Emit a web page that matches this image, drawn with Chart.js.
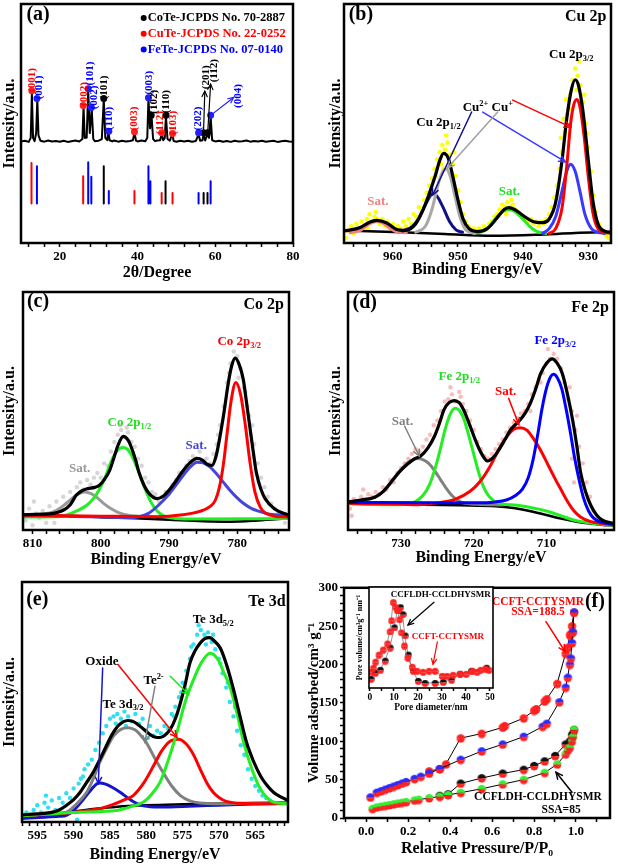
<!DOCTYPE html>
<html><head><meta charset="utf-8">
<script src="https://cdn.jsdelivr.net/npm/chart.js@4.4.1/dist/chart.umd.min.js"></script>
<style>
html,body{margin:0;padding:0;background:#fff;}
body{width:618px;height:864px;position:relative;overflow:hidden;}
canvas{position:absolute;}
</style></head><body>
<script>
const SERIF = '"Liberation Serif","Times New Roman",serif';

/* ================= (a) XRD ================= */
const xrdTrace = [[10,42.5],[11,42.8],[12,42.3],[12.5,44],[12.8,62.5],[13.1,44],[13.5,42.6],[13.9,46],[14.2,60],[14.5,45],[15,42.8],[16,42.4],[17,42.9],[18,42.5],[19,42.7],[20,42.4],[21,42.8],[22,42.3],[23,42.6],[24,42.9],[25,42.5],[25.8,43.5],[26.1,57],[26.4,44],[26.9,44],[27.3,64],[27.7,46],[28.2,56],[28.6,43.5],[29,42.6],[30,42.8],[30.8,43.5],[31.3,60],[31.7,44],[32.2,43],[32.5,46.5],[32.8,43],[33.5,42.5],[34,42.9],[35,42.4],[36,42.8],[37,42.5],[38,42.7],[38.8,43],[39.2,46.2],[39.6,42.8],[40,42.5],[41,42.9],[42,42.6],[42.5,44],[42.8,60.5],[43.2,48],[43.6,53],[44,43.5],[44.5,42.6],[45,42.9],[45.8,43],[46.2,45.5],[46.6,43],[47,44],[47.3,53],[47.7,43.5],[48.3,42.8],[48.9,45.5],[49.3,42.7],[50,42.4],[51,42.8],[52,42.5],[53,42.8],[54,42.4],[55,42.7],[55.7,45.5],[56.1,42.8],[56.7,43],[57,45.5],[57.4,42.9],[58,45.5],[58.4,44],[58.8,53],[59.2,43],[60,42.5],[61,42.8],[62,42.4],[63,42.7],[64,42.3],[65,42.8],[66,42.5],[67,42.6],[68,42.9],[69,42.4],[70,42.7],[71,42.5],[72,42.8],[73,42.4],[74,42.6],[75,42.8],[76,42.3],[77,42.6],[78,42.8],[79,42.5],[80,42.4]];
const xrdMarksCoTe = [[31.3,60.5],[43.5,53.5],[47.3,53.5],[57.0,46.1],[58.0,46.1]];
const xrdMarksCuTe = [[12.8,63.7],[26.0,57.5],[39.2,46.5],[46.2,46.1],[49.0,45.8]];
const xrdMarksFeTe = [[14.1,60.5],[27.3,64.5],[28.1,56.7],[32.6,46.8],[42.8,60.8],[55.7,46.1],[58.8,53.5]];
const stickBase = 16.5;
const sticksCoTe = [[31.3,32.1],[47.2,25.8],[57.0,20.9],[58.0,20.9]];
const sticksCuTe = [[12.7,33.5],[26.0,27.9],[39.2,21.8],[46.2,20.9],[49.0,20.9]];
const sticksFeTe = [[14.1,32.1],[27.3,33.8],[28.1,27.7],[32.6,21.8],[42.8,32.1],[43.3,25.8],[55.7,20.9],[58.8,25.8]];
const xrdHkl = [["(001)","#ff0000",12.9,68.2],["(001)","#0000ff",14.6,65.1],["(002)","#ff0000",26.2,62.3],["(101)","#0000ff",27.9,70.9],["(002)","#0000ff",28.7,60.9],["(101)","#000000",31.5,65.1],["(110)","#0000ff",32.7,52.1],["(003)","#ff0000",39.2,52.1],["(003)","#0000ff",43.0,67.0],["(102)","#000000",44.2,59.1],["(112)","#ff0000",45.7,50.3],["(110)","#000000",47.3,59.1],["(103)","#ff0000",49.1,50.3],["(202)","#0000ff",55.7,52.1],["(201)","#000000",57.6,69.3],["(112)","#000000",59.6,72.1],["(004)","#0000ff",65.8,61.5]];

/* ================= (b) Cu 2p ================= */
const cuFit = [[967.5,5],[965,6.5],[963.5,8.8],[962.5,9.5],[961,8.5],[959.5,5.8],[958,5.3],[956.5,8],[955.5,13],[954.5,20],[953.5,28],[952.8,34.5],[952.2,37.5],[951.5,35.5],[950.8,28],[950,18],[949.2,10],[948.3,6],[947,4.8],[945.5,6],[944,10.5],[943,13.8],[942.2,14.8],[941.3,14],[940,11.5],[938.5,9],[937,8.5],[936,10],[935,17],[934,35],[933.3,52],[932.6,64],[932,68.3],[931.5,66],[930.8,55],[930,35],[929.3,18],[928.5,8],[927.5,5],[926.5,4.5]];
const cuPlus32 = [[936,4],[935,6],[934,15],[933.3,32],[932.7,50],[932.2,58],[931.7,60],[931.2,56],[930.6,44],[930,28],[929.3,13],[928.5,6],[927.5,4.5],[926.5,4]];
const cu2Plus32 = [[937,4],[936,6],[935,11],[934,22],[933.3,30],[932.7,33],[932,30],[931.3,22],[930.5,12],[929.5,6],[928.5,4.5],[927.5,4]];
const cuPlus12 = [[956.5,4.5],[955,7],[954,14],[953,25],[952.3,30],[951.8,31],[951.2,28],[950.5,20],[949.7,11],[948.8,5.5],[947.5,4]];
const cu2Plus12 = [[958.5,5],[957,7],[956,10.5],[955,16],[954.2,20],[953.8,20.7],[953.2,19.5],[952.3,15],[951.3,9],[950.3,5.5],[949.3,4.5]];
const cuSatA = [[947.5,4],[946,5],[945,7.5],[944,11],[943,13.3],[942.1,14],[941.2,13],[940.2,10.5],[939,7],[938,5],[936.5,4]];
const cuSatB = [[966.5,4.5],[965,5.5],[964,7.5],[963,9],[962.5,9.2],[961.5,8.5],[960.5,6.5],[959.5,5],[958,4.5]];
const cuBase = [[967.5,5.3],[960,4.6],[952,3.8],[945,3.0],[938,3.4],[932,4.2],[926.5,4.6]];
const cuRaw = [[967.2,2],[966.8,5],[966.4,7],[966,4],[965.6,8],[965.2,6],[964.8,9],[964.4,7],[964,10],[963.6,12],[963.2,9],[962.8,11],[962.4,10],[962,8],[961.6,10],[961.2,7],[960.8,9],[960.4,6],[960,8],[959.6,5],[959.2,7],[958.8,6],[958.4,9],[958,7],[957.6,10],[957.2,8],[956.8,12],[956.4,11],[956,15],[955.6,13],[955.2,18],[954.8,21],[954.4,24],[954,27],[953.6,31],[953.2,35],[952.8,38],[952.4,41],[952,39],[951.6,42],[951.2,37],[950.8,33],[950.4,28],[950,22],[949.6,17],[949.2,12],[948.8,9],[948.4,7],[948,5],[947.6,6],[947.2,4],[946.8,6],[946.4,5],[946,7],[945.6,6],[945.2,8],[944.8,9],[944.4,11],[944,12],[943.6,14],[943.2,16],[942.8,15],[942.4,17],[942,15],[941.6,16],[941.2,14],[940.8,13],[940.4,12],[940,11],[939.6,10],[939.2,9],[938.8,10],[938.4,8],[938,9],[937.6,7],[937.2,9],[936.8,8],[936.4,10],[936,12],[935.6,15],[935.2,19],[934.8,24],[934.4,31],[934,38],[933.6,46],[933.2,54],[932.8,62],[932.4,68],[932,73],[931.6,70],[931.2,66],[930.8,59],[930.4,50],[930,40],[929.6,30],[929.2,20],[928.8,13],[928.4,8],[928,6],[927.6,4],[927.2,3],[926.8,2],[933.4,60],[932.6,56],[931.8,64],[931.4,76],[930.6,62],[933.8,52],[934.2,44],[930.2,46],[952.6,33],[951.8,45],[952.2,31],[953.4,28],[950.6,38],[942.6,12],[941.8,18],[962.6,13],[963.8,6]];

/* ================= (c) Co 2p ================= */
const coFit = [[811.4,6.4],[809.5,6.6],[807.5,6.8],[805.5,8.3],[804.5,10.5],[803.6,14.6],[802.7,16.6],[801.9,17.4],[800.9,17.9],[800.2,18.8],[799.4,21.5],[798.7,25],[798,31],[797.5,35.4],[796.7,39.3],[796,37.8],[795.6,35.4],[794.9,29.5],[794.4,24.3],[793.6,18.5],[792.9,15.3],[791.7,13.2],[790.8,14.3],[790,16.7],[789,20.5],[788.1,24.3],[787,28],[785.9,30.1],[785.1,29.4],[784.5,27.8],[783.7,27.1],[783.1,31],[782.5,39.6],[781.9,50],[781.3,61.8],[780.8,69],[780.3,72.2],[779.7,69.5],[779.1,63.2],[778.6,53],[778.1,42.4],[777.6,32],[777.2,24.3],[776.5,17],[775.9,13.2],[774.5,8.8],[772.4,6.2]];
const co2p32 = [[811.4,6.2],[800,5.8],[792,5.6],[788,6.4],[785.5,7.8],[784,9.8],[783.2,12.5],[782.6,18],[782,28],[781.5,40],[780.9,54],[780.2,62],[779.5,57],[778.8,44],[778.1,28],[777.4,16],[776.6,9.5],[775.8,7],[774.5,5.8],[772.4,5.5]];
const coSatA = [[811.4,6],[800,5.5],[796,5.2],[794.4,5.6],[793,7],[791.5,10.5],[790,15],[788.8,19.5],[787.5,24.5],[786.5,27.5],[785.9,28.5],[785,28.2],[784,26.5],[783,23.5],[782,20],[781,16.5],[780,13.5],[779,11],[778,9.2],[777,8],[775.8,7],[774.5,6.4],[772.4,6]];
const co2p12 = [[811.4,5.5],[806.5,5.6],[805,6.3],[803.5,8],[802,10.5],[801,13.5],[800.2,17],[799.3,22.5],[798.5,28.5],[797.8,32.5],[797.2,34.3],[796.7,34.7],[796.1,34],[795.5,31.5],[794.8,27],[794.2,22.5],[793.4,16.5],[792.6,11.5],[791.8,8.2],[790.8,6],[789.5,5],[787,4.6],[772.4,4.8]];
const coSatB = [[811.4,6.3],[808.5,6.8],[807,7.6],[805.8,9.5],[804.6,12.3],[803.5,14.8],[802.4,16],[801.4,15.3],[800.5,13.5],[799.5,11],[798.4,8.8],[797.3,7.2],[796,6.2],[794.5,5.8],[792,5.6]];
const coBase = [[811.4,6.2],[805,6],[800,5.4],[795,4.9],[790,4.3],[785,3.7],[781,3.5],[777,4],[772.4,4.9]];
const coRaw = [[811,4],[810.5,9],[810,2],[809.5,7],[809,5],[808.5,8],[808,3],[807.5,10],[807,6],[806.5,12],[806,9],[805.5,14],[805,11],[804.5,16],[804,13],[803.5,18],[803,20],[802.5,17],[802,21],[801.5,19],[801,22],[800.5,24],[800,22],[799.5,28],[799,27],[798.5,33],[798,37],[797.5,40],[797,42],[796.5,39],[796,41],[795.5,37],[795,35],[794.5,30],[794,27],[793.5,22],[793,20],[792.5,16],[792,15],[791.5,12],[791,14],[790.5,16],[790,15],[789.5,19],[789,21],[788.5,24],[788,23],[787.5,27],[787,29],[786.5,31],[786,30],[785.5,33],[785,29],[784.5,30],[784,28],[783.5,32],[783,36],[782.5,44],[782,52],[781.5,62],[781,70],[780.5,75],[780,73],[779.5,68],[779,60],[778.5,52],[778,40],[777.5,36],[777,28],[776.5,22],[776,18],[775.5,14],[775,11],[774.5,9],[774,7],[773.5,5],[773,3],[778.8,58],[778.2,48],[777.8,44],[779.8,64],[781.2,66],[782.8,40],[797.2,44],[796.2,43],[798.2,30],[806.8,3],[809.8,12]];

/* ================= (d) Fe 2p ================= */
const feFit = [[737.3,11.8],[735.5,12.6],[733.6,13.8],[732.5,16],[731.4,20],[730.2,24.5],[729.1,27.7],[728.2,29.8],[727.3,31.1],[726.3,34.5],[725.4,39.4],[724.7,45],[724.1,50.5],[723.4,53.5],[722.7,54.4],[722,53.5],[721.4,50.5],[720.6,44.5],[719.8,38],[719,32.5],[718.1,29],[717.3,30.5],[716.5,33.9],[715.7,38],[714.9,42.2],[713.6,46.3],[712.9,49.2],[712.2,53.3],[711.5,59],[710.8,65.7],[710,70],[709.2,71.9],[708.5,70],[707.8,65.7],[707.1,57],[706.4,46.3],[705.8,35],[705.3,24.2],[704.6,16],[703.9,10.4],[703.1,6.3],[702.3,4.1],[700.8,2.8]];
const fe2p32 = [[737.3,11.6],[725,11.4],[720,11.4],[717,11.8],[715.5,12.6],[714.3,14.4],[713.3,17.2],[712.5,22],[711.8,30],[711.2,40],[710.6,51],[710,59.5],[709.4,64.5],[709,65.4],[708.5,64],[707.9,59.5],[707.3,51],[706.7,41],[706.1,30],[705.5,21],[704.9,13.5],[704.2,8],[703.5,5],[702.5,3.3],[700.8,2.4]];
const feSatA = [[737.3,11.2],[730,10.8],[727.7,10.6],[725,11.4],[722.5,13],[720.5,16.3],[719.1,20.5],[717.8,26.5],[716.6,33.5],[715.5,39],[714.5,42.3],[713.6,43],[712.7,42],[711.8,38.5],[710.8,33.5],[709.8,27.5],[708.8,21.5],[708,17],[707.1,12],[706.2,8],[705.2,5.3],[704,3.6],[702.5,2.8],[700.8,2.3]];
const fe2p12 = [[737.3,11],[731,10.6],[729.1,10.8],[728,12],[727,14.5],[726.1,19],[725.3,26],[724.6,34],[724,41.5],[723.4,47.5],[722.9,50.5],[722.5,51.2],[722,50.3],[721.4,47],[720.8,41],[720.1,33],[719.4,25],[718.7,18.5],[718,14.5],[717.2,12.2],[716.3,11.1],[714,10.4],[710,8],[706,4],[702,2.3],[700.8,2.2]];
const feSatB = [[737.3,11.8],[735,12.4],[733.5,14],[732.2,17],[731.1,21.2],[730.1,25],[729.1,28.3],[728.3,29.7],[727.7,30],[727,29.6],[726.2,28],[725.4,25],[724.6,21.3],[723.8,17.6],[723,14.5],[722.1,12.3],[721.2,11.2],[719.5,10.8],[716,10.5]];
const feBase = [[737.3,11.2],[730,10.8],[722,10.4],[717,10],[714.5,9.2],[712,7.8],[710,6.3],[708,4.8],[706,3.6],[704,2.7],[702,2.1],[700.8,1.9]];
const feRaw = [[737,9],[736.5,13],[736,12],[735.5,14],[735,12],[734.5,15],[734,14],[733.5,16],[733,15],[732.5,18],[732,17],[731.5,21],[731,20],[730.5,24],[730,26],[729.5,28],[729,30],[728.5,32],[728,34],[727.5,33],[727,35],[726.5,38],[726,40],[725.5,44],[725,46],[724.5,50],[724,54],[723.5,55],[723,57],[722.5,54],[722,58],[721.5,53],[721,50],[720.5,46],[720,42],[719.5,37],[719,34],[718.5,31],[718,30],[717.5,32],[717,34],[716.5,36],[716,38],[715.5,41],[715,43],[714.5,45],[714,47],[713.5,49],[713,50],[712.5,53],[712,57],[711.5,60],[711,63],[710.5,66],[710,70],[709.5,72],[709,74],[708.5,72],[708,68],[707.5,62],[707,55],[706.5,50],[706,42],[705.5,35],[705,28],[704.5,20],[704,14],[703.5,8],[703,5],[702.5,3],[702,2],[706.8,60],[706.5,30],[706.2,20],[705.8,48],[709.8,76],[710.8,62],[712.2,50],[723.2,60],[721.8,56],[736.8,6],[735.2,17]];

/* ================= (e) Te 3d ================= */
const teFit = [[597.1,3],[595,3.4],[593.2,3.9],[592,5],[591,6.9],[590,9.3],[589.1,12.4],[588.2,16.5],[587.3,20.7],[586.4,26],[585.5,31.7],[584.7,36.5],[583.9,40],[583.2,41.7],[582.5,42.3],[581.7,41.7],[580.9,40],[580.1,38],[579.3,36.1],[578.7,35.3],[578.1,35.2],[577.4,36.3],[576.7,38.6],[576,43],[575.3,49.7],[574.6,58],[574,66.2],[573.3,71.3],[572.6,74.5],[572,76.3],[571.3,76.8],[570.6,75.3],[569.8,72.4],[568.9,65],[568,55.2],[567.1,44],[566.2,33.1],[565.2,25],[564.3,19.3],[563.4,15.3],[562.5,12.4],[561.5,10.5],[560.5,9]];
const te3d52 = [[597.1,2.6],[590,4],[586,4.4],[584.1,4.8],[582.3,6.2],[580.4,8.3],[579.2,11.8],[578.1,16.6],[577,25.5],[575.8,37.2],[574.7,49.5],[573.5,59.3],[572.4,66.5],[571.2,70.3],[570.1,67.5],[569.3,62],[568.5,56.6],[567.5,45],[566.6,33.1],[565.4,21.5],[564.3,13.8],[563.4,10.2],[562.5,8.3],[560.5,7.6]];
const teOxide52 = [[597.1,2.6],[590,4],[588,4.8],[586.4,5.5],[584.3,7.6],[582.8,9.5],[581.8,11],[580.3,16.5],[579,23.4],[577.9,29.5],[576.8,33.5],[575.6,34.5],[574.5,32.5],[573.5,28],[572.6,22.1],[571.7,16.5],[570.8,12.4],[569.9,10],[569,8.6],[567,7.8],[564,7.6],[560.5,7.6]];
const te3d32 = [[597.1,2.6],[593,3.5],[591,4.1],[589.6,7.5],[588.2,12.4],[587.3,18],[586.4,24.8],[585.4,31],[584.5,35.9],[583.5,38.6],[582.5,39.3],[581.5,38.3],[580.6,35.5],[580,33.1],[578.9,27],[577.7,20.7],[576.5,15],[575.3,11],[574,8.8],[572.6,7.9],[570,7.6],[566,7.8],[560.5,8]];
const teOxide32 = [[597.1,1.5],[594,2],[592,2.4],[591,2.8],[589.8,5.5],[588.6,9.7],[587.5,13.8],[586.8,15.9],[586.4,16.3],[585.7,15.9],[584.7,14.5],[583.6,12.4],[582.3,9.5],[580.9,7.2],[579.5,6.4],[578.1,6.2],[575,6.5],[570,7],[565,7.5],[560.5,7.8]];
const teBase = [[597.1,2.5],[593,3.3],[590,4.3],[587,5.5],[584,6.4],[580,7],[575,7.4],[570,7.7],[565,7.9],[560.5,8.1]];
const teRaw = [[597,2],[596.5,4],[596,3],[595.5,5],[595,7],[594.5,4],[594,8],[593.5,6],[593,9],[592.5,5],[592,10],[591.5,8],[591,12],[590.5,10],[590,14],[589.5,1],[589,18],[588.5,22],[588,24],[587.5,26],[587,30],[586.5,33],[586,37],[585.5,40],[585,43],[584.5,44],[584,45],[583.5,43],[583,46],[582.5,44],[582,42],[581.5,45],[581,41],[580.5,43],[580,38],[579.5,40],[579,36],[578.5,38],[578,37],[577.5,40],[577,39],[576.5,45],[576,48],[575.5,52],[575,58],[574.5,63],[574,68],[573.5,74],[573,78],[572.5,80],[572,78],[571.5,79],[571,75],[570.5,72],[570,68],[569.5,62],[569,56],[568.5,50],[568,44],[567.5,38],[567,32],[566.5,28],[566,22],[565.5,18],[565,15],[564.5,13],[564,11],[563.5,10],[563,9],[562.5,8],[589.3,16],[588.7,19],[584.2,41],[582.8,40],[579.8,35],[573.8,73],[572.8,82],[571.8,74],[570.8,78],[569.8,66],[568.8,58],[567.8,48],[575.2,54],[576.2,44],[593.8,11],[592.2,3]];

/* ================= (f) BET ================= */
const betAdsFT = [[0.02,27],[0.05,33],[0.07,35],[0.09,37],[0.11,39],[0.13,41],[0.15,43],[0.17,45],[0.19,47],[0.23,51],[0.26,54],[0.30,58],[0.35,64],[0.45,76],[0.55,87],[0.65,96],[0.75,106],[0.84,119],[0.86,123],[0.92,151],[0.95,170],[0.96,183],[0.97,200],[0.975,208],[0.98,228],[0.985,242],[0.99,268]];
const betDesFT = [[0.99,268],[0.98,250],[0.975,240],[0.97,238],[0.96,222],[0.95,214],[0.91,175],[0.86,155],[0.85,152],[0.81,142],[0.80,140],[0.75,130],[0.66,120],[0.65,118],[0.55,110],[0.45,104],[0.38,70],[0.35,64],[0.30,61]];
const betAdsLDH = [[0.03,12],[0.05,14],[0.07,15],[0.09,16],[0.11,17],[0.13,18],[0.15,19],[0.17,20],[0.19,21],[0.23,23],[0.25,24],[0.30,26],[0.35,28],[0.39,30],[0.45,33],[0.55,38],[0.65,44],[0.75,50],[0.85,59],[0.91,70],[0.95,83],[0.96,88],[0.97,92],[0.98,100],[0.985,106],[0.99,115]];
const betDesLDH = [[0.99,115],[0.985,110],[0.98,108],[0.97,100],[0.95,96],[0.90,81],[0.85,74],[0.80,68],[0.75,63],[0.65,58],[0.55,52],[0.45,45],[0.39,31],[0.35,29]];
const poreFT = [[0.5,16],[1.3,20],[2.2,26],[3.6,33],[5.4,38],[7.2,44],[8.2,56],[8.9,67],[9.6,85],[10.6,80],[11.5,77],[12.2,68],[13.0,55],[14.2,42],[15.6,30],[17.5,21],[19.5,17],[22,16],[24.5,17],[27,17],[30,12],[32,12],[34.5,13],[37.5,14],[40,14],[42.5,17],[44.5,16],[46,18],[48,19],[49.5,18]];
const poreLDH = [[0.3,9],[2.1,15],[4.2,18],[6.2,27],[8.3,40],[10.1,60],[11.4,77],[12.6,80],[13.6,73],[14.5,52],[15.9,33],[17.9,17],[20,7],[22.8,5],[27,5],[30.4,6],[33.9,8],[37.4,14],[42.2,17],[48.5,20]];

/* ================= helpers ================= */
const pts = a => a.map(p => ({x: p[0], y: p[1]}));
function tickList(min, max, step) {
  const out = []; const s = Math.ceil(min / step - 1e-9);
  for (let k = s; k * step <= max + 1e-9; k++) out.push(+(k * step).toFixed(6));
  return out;
}
const isMult = (v, m) => Math.abs(v / m - Math.round(v / m)) < 1e-6;
const font = (s) => `bold ${s}px ${SERIF}`;

function drawRich(ctx, str, x, y, size, color, align) {
  const segs = []; const re = /([_^])\{([^}]*)\}/g; let last = 0, m;
  while ((m = re.exec(str))) {
    if (m.index > last) segs.push({t: str.slice(last, m.index), k: 0});
    segs.push({t: m[2], k: m[1] === '_' ? 1 : -1}); last = re.lastIndex;
  }
  if (last < str.length) segs.push({t: str.slice(last), k: 0});
  let w = 0;
  segs.forEach(s => { ctx.font = font(s.k ? size * 0.65 : size); s.w = ctx.measureText(s.t).width; w += s.w; });
  let cx = align === 'left' ? x : align === 'right' ? x - w : x - w / 2;
  ctx.fillStyle = color; ctx.textBaseline = 'middle'; ctx.textAlign = 'left';
  segs.forEach(s => {
    ctx.font = font(s.k ? size * 0.65 : size);
    const dy = s.k === 1 ? size * 0.3 : s.k === -1 ? -size * 0.35 : 0;
    ctx.fillText(s.t, cx, y + dy); cx += s.w;
  });
}
function arrow(ctx, x1, y1, x2, y2, color, w, head) {
  ctx.save(); ctx.strokeStyle = color; ctx.lineWidth = w || 1.5; ctx.lineCap = 'round';
  ctx.beginPath(); ctx.moveTo(x1, y1); ctx.lineTo(x2, y2); ctx.stroke();
  const a = Math.atan2(y2 - y1, x2 - x1), h = head || 7;
  ctx.beginPath();
  ctx.moveTo(x2 - h * Math.cos(a - 0.45), y2 - h * Math.sin(a - 0.45));
  ctx.lineTo(x2, y2);
  ctx.lineTo(x2 - h * Math.cos(a + 0.45), y2 - h * Math.sin(a + 0.45));
  ctx.stroke(); ctx.restore();
}
function notesPlugin(notes, frameW) {
  return {
    id: 'notes',
    beforeDraw(chart) {
      if (notes.whiteBg) { const a = chart.chartArea; chart.ctx.fillStyle = '#fff'; chart.ctx.fillRect(a.left, a.top, a.right - a.left, a.bottom - a.top); }
    },
    afterDraw(chart) {
      const ctx = chart.ctx, X = chart.scales.x, Y = chart.scales.y, a = chart.chartArea;
      ctx.save();
      ctx.strokeStyle = '#000'; ctx.lineWidth = frameW || 2.5;
      ctx.strokeRect(a.left, a.top, a.right - a.left, a.bottom - a.top);
      (notes.arrows || []).forEach(r => arrow(ctx, X.getPixelForValue(r.x1), Y.getPixelForValue(r.y1), X.getPixelForValue(r.x2), Y.getPixelForValue(r.y2), r.c || '#000', r.w, r.h));
      (notes.texts || []).forEach(t => {
        const px = X.getPixelForValue(t.x), py = Y.getPixelForValue(t.y);
        if (t.rot) {
          ctx.save(); ctx.translate(px, py); ctx.rotate(t.rot * Math.PI / 180);
          drawRich(ctx, t.t, 0, 0, t.s || 13, t.c || '#000', 'center'); ctx.restore();
        } else {
          if (t.dot) { ctx.beginPath(); ctx.fillStyle = t.c; ctx.arc(px - 4, py, 3, 0, Math.PI * 2); ctx.fill(); }
          drawRich(ctx, t.t, px, py, t.s || 13, t.c || '#000', t.align || 'center');
        }
      });
      ctx.restore();
    }
  };
}

function makePanel(cfg) {
  const c = document.createElement('canvas');
  c.style.left = cfg.cell.x + 'px'; c.style.top = cfg.cell.y + 'px';
  c.width = cfg.cell.w; c.height = cfg.cell.h;
  document.body.appendChild(c);
  const xs = cfg.x, ys = cfg.y;
  const xlh = xs.titleSize * 1.2, ylh = ys.titleSize * 1.2;
  let scaleLeft = Math.max(cfg.cell.x, cfg.yTitleX - ylh / 2);
  const yW = cfg.frame.l - scaleLeft;
  const scaleBottom = Math.min(cfg.cell.y + cfg.cell.h, cfg.xTitleY + xlh / 2);
  const xH = scaleBottom - cfg.frame.b;
  const padding = {left: scaleLeft - cfg.cell.x, top: cfg.frame.t - cfg.cell.y, right: cfg.cell.x + cfg.cell.w - cfg.frame.r, bottom: cfg.cell.y + cfg.cell.h - scaleBottom};
  const xTicks = tickList(xs.min, xs.max, xs.step);
  const scales = {
    x: {
      type: 'linear', min: xs.min, max: xs.max, reverse: !!xs.reverse, offset: false,
      afterBuildTicks: s => { s.ticks = xTicks.map(v => ({value: v})); },
      afterFit: s => { s.height = xH; },
      ticks: {autoSkip: false, maxRotation: 0, padding: xs.tickPad == null ? 2 : xs.tickPad, color: '#000', font: {family: SERIF, weight: 'bold', size: xs.tickSize},
        callback: v => isMult(v, xs.labelStep) ? v.toFixed(xs.dec || 0) : ''},
      grid: {display: true, drawOnChartArea: false, drawTicks: true, tickLength: xs.tickLen || 4, tickWidth: 1.5, tickColor: '#000', offset: false},
      border: {display: false},
      title: {display: true, text: xs.title, color: '#000', font: {family: SERIF, weight: 'bold', size: xs.titleSize}, padding: {top: 0, bottom: 0}}
    },
    y: {
      type: 'linear', min: ys.min, max: ys.max,
      afterFit: s => { s.width = yW; },
      ticks: ys.step ? {autoSkip: false, padding: 2, color: '#000', font: {family: SERIF, weight: 'bold', size: ys.tickSize}, callback: v => isMult(v, ys.labelStep) ? String(v) : ''} : {display: false},
      grid: ys.step ? {display: true, drawOnChartArea: false, drawTicks: true, tickLength: 4, tickWidth: 1.5, tickColor: '#000'} : {display: false},
      border: {display: false},
      title: {display: true, text: ys.title, color: '#000', font: {family: SERIF, weight: 'bold', size: ys.titleSize}, padding: {top: 0, bottom: 0}}
    }
  };
  if (ys.step) { const yt = tickList(ys.min, ys.max, ys.step); scales.y.afterBuildTicks = s => { s.ticks = yt.map(v => ({value: v})); }; }
  return new Chart(c, {
    type: 'line',
    data: {datasets: cfg.datasets},
    options: {
      responsive: false, animation: false, devicePixelRatio: 1,
      layout: {padding},
      plugins: {legend: {display: false}, tooltip: {enabled: false}},
      elements: {point: {radius: 0}, line: {borderCapStyle: 'round', borderJoinStyle: 'round'}},
      scales
    },
    plugins: [notesPlugin(cfg.notes || {}, cfg.frameW)]
  });
}
const curve = (data, color, w) => ({data: pts(data), borderColor: color, borderWidth: w || 3, pointRadius: 0, cubicInterpolationMode: 'monotone', fill: false});
const dots = (data, color, r) => ({data: pts(data), showLine: false, pointRadius: r || 2, pointBackgroundColor: color, pointBorderWidth: 0, pointBorderColor: color});
const sticks = (list, color) => ({data: list.flatMap(s => [{x: s[0], y: stickBase}, {x: s[0], y: s[1]}, {x: s[0], y: null}]), borderColor: color, borderWidth: 2, pointRadius: 0, spanGaps: false, tension: 0});
function halfDot(top, bottom, r) {
  const c = document.createElement('canvas'); const s = 2 * r + 2; c.width = c.height = s;
  const g = c.getContext('2d');
  g.beginPath(); g.arc(s / 2, s / 2, r, Math.PI, 0); g.closePath(); g.fillStyle = top; g.fill();
  g.beginPath(); g.arc(s / 2, s / 2, r, 0, Math.PI); g.closePath(); g.fillStyle = bottom; g.fill();
  return c;
}
const ylabXPS = 'Intensity/a.u.';
const xlabXPS = 'Binding Energy/eV';

/* ---------- panel (a) ---------- */
makePanel({
  cell: {x: 0, y: 0, w: 308, h: 290}, frame: {l: 21, t: 4, r: 293, b: 243}, xTitleY: 273, yTitleX: 8,
  x: {min: 10, max: 80, step: 4, labelStep: 20, tickSize: 13, title: '2θ/Degree', titleSize: 16},
  y: {min: 0, max: 100, title: ylabXPS, titleSize: 16},
  datasets: [
    dots(xrdMarksCuTe, '#ff2020', 3.5), dots(xrdMarksFeTe, '#2020ff', 3.5), dots(xrdMarksCoTe, '#000000', 3.5),
    {data: pts(xrdTrace), borderColor: '#000', borderWidth: 2, pointRadius: 0, tension: 0},
    Object.assign(sticks(sticksCoTe, '#000000'), {label: 'CoTe-JCPDS No. 70-2887'}),
    Object.assign(sticks(sticksCuTe, '#ff0000'), {label: 'CuTe-JCPDS No. 22-0252'}),
    Object.assign(sticks(sticksFeTe, '#0000ff'), {label: 'FeTe-JCPDS No. 07-0140'})
  ],
  notes: {
    texts: [
      {t: '(a)', x: 14.4, y: 95.4, s: 20},
      {t: 'CoTe-JCPDS No. 70-2887', x: 42.6, y: 94.1, s: 12.5, c: '#000000', align: 'left', dot: true},
      {t: 'CuTe-JCPDS No. 22-0252', x: 42.6, y: 87.6, s: 12.5, c: '#ff0000', align: 'left', dot: true},
      {t: 'FeTe-JCPDS No. 07-0140', x: 42.6, y: 81.0, s: 12.5, c: '#0000ff', align: 'left', dot: true}
    ].concat(xrdHkl.map(h => ({t: h[0], c: h[1], x: h[2], y: h[3], s: 11, rot: -90}))),
    arrows: [
      {x1: 57.0, y1: 47.5, x2: 57.3, y2: 63.5, c: '#000', w: 1.2, h: 6},
      {x1: 58.1, y1: 47.5, x2: 58.8, y2: 66.5, c: '#000', w: 1.2, h: 6},
      {x1: 58.9, y1: 53.5, x2: 64.7, y2: 60.9, c: '#2020ff', w: 1.2, h: 6}
    ]
  }
});

/* ---------- panel (b) ---------- */
makePanel({
  cell: {x: 308, y: 0, w: 310, h: 290}, frame: {l: 344, t: 4, r: 611, b: 243}, xTitleY: 270, yTitleX: 336,
  x: {min: 926.5, max: 967.5, reverse: true, step: 2, labelStep: 10, tickSize: 13, title: xlabXPS, titleSize: 16},
  y: {min: 0, max: 100, title: ylabXPS, titleSize: 16},
  datasets: [
    curve(cuFit, '#000000', 3.2), curve(cuPlus32, '#ff0000', 3), curve(cu2Plus32, '#3a3aff', 3),
    curve(cuPlus12, '#a8a8a8', 3), curve(cu2Plus12, '#10108a', 3), curve(cuSatA, '#22ee22', 3),
    curve(cuSatB, '#f08080', 4), curve(cuBase, '#000000', 2.5), dots(cuRaw, '#ffff00', 2.3)
  ],
  notes: {
    texts: [
      {t: '(b)', x: 964.9, y: 95.4, s: 20},
      {t: 'Cu 2p', x: 930.4, y: 94.6, s: 16},
      {t: 'Cu 2p_{3/2}', x: 932.6, y: 78.7, s: 13},
      {t: 'Cu 2p_{1/2}', x: 953.0, y: 50.2, s: 13},
      {t: 'Cu^{2+}', x: 947.3, y: 56.5, s: 13},
      {t: 'Cu^{+}', x: 943.2, y: 56.5, s: 13},
      {t: 'Sat.', x: 962.3, y: 17.2, s: 13, c: '#f08080'},
      {t: 'Sat.', x: 942.1, y: 21.3, s: 13, c: '#22dd22'}
    ],
    arrows: [
      {x1: 947.9, y1: 54.8, x2: 953.9, y2: 20.1, c: '#10108a'},
      {x1: 946.2, y1: 54.8, x2: 933.5, y2: 33.9, c: '#3a3aff'},
      {x1: 943.9, y1: 54.8, x2: 951.6, y2: 31.4, c: '#a0a0a0'},
      {x1: 941.6, y1: 59.8, x2: 932.7, y2: 48.5, c: '#ff0000'}
    ]
  }
});

/* ---------- panel (c) ---------- */
makePanel({
  cell: {x: 0, y: 288, w: 308, h: 292}, frame: {l: 23, t: 290, r: 289, b: 530}, xTitleY: 560, yTitleX: 10,
  x: {min: 772.4, max: 811.4, reverse: true, step: 2, labelStep: 10, tickSize: 13, title: xlabXPS, titleSize: 16},
  y: {min: 0, max: 100, title: ylabXPS, titleSize: 16},
  datasets: [
    curve(coFit, '#000000', 3.2), curve(co2p32, '#ff0000', 3), curve(coSatA, '#4545dd', 3),
    curve(co2p12, '#22ee22', 3), curve(coSatB, '#9a9a9a', 3), curve(coBase, '#000000', 2.5), dots(coRaw, '#d6d6d6', 2.2)
  ],
  notes: {
    texts: [
      {t: '(c)', x: 809.2, y: 95.8, s: 20},
      {t: 'Co 2p', x: 776.1, y: 94.4, s: 16},
      {t: 'Co 2p_{3/2}', x: 779.7, y: 79.2, s: 13, c: '#ff0000'},
      {t: 'Co 2p_{1/2}', x: 795.8, y: 45.1, s: 13, c: '#22dd22'},
      {t: 'Sat.', x: 786.0, y: 35.4, s: 13, c: '#4545dd'},
      {t: 'Sat.', x: 803.1, y: 25.7, s: 13, c: '#999999'}
    ]
  }
});

/* ---------- panel (d) ---------- */
makePanel({
  cell: {x: 308, y: 288, w: 310, h: 292}, frame: {l: 348, t: 289, r: 615, b: 530}, xTitleY: 558, yTitleX: 336,
  x: {min: 700.7, max: 737.3, reverse: true, step: 2, labelStep: 10, tickSize: 13, title: xlabXPS, titleSize: 16},
  y: {min: 0, max: 100, title: ylabXPS, titleSize: 16},
  datasets: [
    curve(feFit, '#000000', 3.2), curve(fe2p32, '#0000ff', 3), curve(feSatA, '#ff0000', 3),
    curve(fe2p12, '#22ee22', 3), curve(feSatB, '#808080', 3), curve(feBase, '#000000', 2.5), dots(feRaw, '#f7bcbc', 2.2)
  ],
  notes: {
    texts: [
      {t: '(d)', x: 735.0, y: 95.4, s: 20},
      {t: 'Fe 2p', x: 704.0, y: 93.4, s: 16},
      {t: 'Fe 2p_{3/2}', x: 708.8, y: 79.5, s: 13, c: '#0000ff'},
      {t: 'Fe 2p_{1/2}', x: 722.0, y: 64.3, s: 13, c: '#22dd22'},
      {t: 'Sat.', x: 715.6, y: 58.1, s: 13, c: '#ff0000'},
      {t: 'Sat.', x: 729.8, y: 45.6, s: 13, c: '#808080'}
    ],
    arrows: [
      {x1: 715.2, y1: 55.3, x2: 713.8, y2: 44.3, c: '#ff0000'},
      {x1: 729.5, y1: 43.6, x2: 727.5, y2: 31.1, c: '#808080'}
    ]
  }
});

/* ---------- panel (e) ---------- */
makePanel({
  cell: {x: 0, y: 578, w: 308, h: 286}, frame: {l: 22, t: 580, r: 288, b: 822}, xTitleY: 855, yTitleX: 10,
  x: {min: 560.5, max: 597.1, reverse: true, step: 1, labelStep: 5, tickSize: 13, title: xlabXPS, titleSize: 16},
  y: {min: 0, max: 100, title: ylabXPS, titleSize: 16},
  datasets: [
    curve(teFit, '#000000', 3.2), curve(te3d52, '#22ee22', 3), curve(teOxide52, '#ff0000', 3),
    curve(te3d32, '#808080', 3), curve(teOxide32, '#1515c8', 3), curve(teBase, '#000000', 2.5), dots(teRaw, '#30e0f0', 2.2)
  ],
  notes: {
    texts: [
      {t: '(e)', x: 595.0, y: 92.4, s: 20},
      {t: 'Te 3d', x: 563.4, y: 91.7, s: 16},
      {t: 'Te 3d_{5/2}', x: 570.8, y: 84.2, s: 13},
      {t: 'Oxide', x: 586.1, y: 66.9, s: 13},
      {t: 'Te^{2-}', x: 579.0, y: 58.7, s: 13},
      {t: 'Te 3d_{3/2}', x: 583.2, y: 49.0, s: 13}
    ],
    arrows: [
      {x1: 586.0, y1: 64.2, x2: 586.6, y2: 16, c: '#1515c8'},
      {x1: 583.9, y1: 65.6, x2: 575.8, y2: 35.3, c: '#ff0000'},
      {x1: 578.8, y1: 56.6, x2: 580.2, y2: 33.2, c: '#808080'},
      {x1: 576.7, y1: 60.7, x2: 574.2, y2: 53.2, c: '#22dd22'}
    ]
  }
});

/* ---------- panel (f) ---------- */
const ptBlue = halfDot('#2b2bff', '#ff2020', 4.2), ptRed = halfDot('#ff2020', '#ff2020', 4.2);
const ptGreen = halfDot('#33ee33', '#ff2020', 4.2), ptBlack = halfDot('#111111', '#ff2020', 4.2);
const betLine = (data, img) => ({data: pts(data), borderColor: '#000', borderWidth: 1, tension: 0, pointStyle: img, pointRadius: 4.2});
makePanel({
  cell: {x: 300, y: 578, w: 318, h: 286}, frame: {l: 344, t: 586, r: 610, b: 818}, xTitleY: 849, yTitleX: 314,
  x: {min: -0.105, max: 1.162, step: 0.1, labelStep: 0.2, dec: 1, tickSize: 13, title: 'Relative Pressure/P/P₀', titleSize: 16},
  y: {min: 0, max: 300, step: 10, labelStep: 50, tickSize: 13, title: 'Volume adsorbed/cm³ g⁻¹', titleSize: 15},
  datasets: [betLine(betAdsFT, ptBlue), betLine(betDesFT, ptRed), betLine(betAdsLDH, ptGreen), betLine(betDesLDH, ptBlack)],
  notes: {
    texts: [
      {t: '(f)', x: 1.09, y: 282, s: 20},
      {t: 'CCFT-CCTYSMR', x: 0.819, y: 282, s: 11.5, c: '#ff0000'},
      {t: 'SSA=188.5', x: 0.819, y: 268, s: 11.5, c: '#ff0000'},
      {t: 'CCFLDH-CCLDHYSMR', x: 0.819, y: 27, s: 11.5},
      {t: 'SSA=85', x: 0.929, y: 10.3, s: 11.5}
    ],
    arrows: [
      {x1: 0.857, y1: 256, x2: 0.948, y2: 217, c: '#ff0000'},
      {x1: 0.981, y1: 33.6, x2: 0.905, y2: 59.5, c: '#000'}
    ]
  }
});

/* ---------- inset of (f) ---------- */
const ptRedS = halfDot('#ff2020', '#ff2020', 3.4), ptBlackS = halfDot('#111111', '#ff2020', 3.4);
makePanel({
  cell: {x: 345, y: 582, w: 205, h: 135}, frame: {l: 369, t: 587, r: 493, b: 688}, xTitleY: 708, yTitleX: 360, frameW: 1.6,
  x: {min: -0.4, max: 51.3, step: 5, labelStep: 10, tickSize: 9.5, tickLen: 3, tickPad: 1, title: 'Pore diameter/nm', titleSize: 9.5},
  y: {min: 0, max: 100, title: 'Pore volume/cm³g⁻¹ nm⁻¹', titleSize: 8},
  datasets: [
    {data: pts(poreFT), borderColor: '#777', borderWidth: 0.8, tension: 0, pointStyle: ptRedS, pointRadius: 3.4},
    {data: pts(poreLDH), borderColor: '#777', borderWidth: 0.8, tension: 0, pointStyle: ptBlackS, pointRadius: 3.4}
  ],
  notes: {
    whiteBg: true,
    texts: [
      {t: 'CCFLDH-CCLDHYSMR', x: 29.5, y: 92, s: 9},
      {t: 'CCFT-CCTYSMR', x: 32.5, y: 50.8, s: 9, c: '#ff0000'}
    ],
    arrows: [
      {x1: 26.7, y1: 84.9, x2: 15.85, y2: 62.4, c: '#000', w: 1.2, h: 6},
      {x1: 28.1, y1: 45.8, x2: 26.3, y2: 23.5, c: '#ff0000', w: 1.2, h: 6}
    ]
  }
});
</script>
</body></html>
